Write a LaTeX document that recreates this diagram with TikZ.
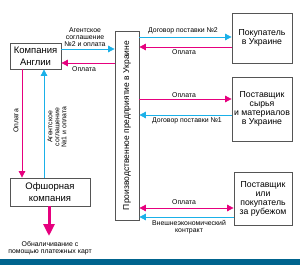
\documentclass[tikz,border=0pt]{standalone}
\usepackage{fontspec}
\setmainfont{Liberation Sans}
\usetikzlibrary{arrows.meta}
\definecolor{pk}{HTML}{E6007E}
\definecolor{cy}{HTML}{1AB0E8}
\definecolor{band}{HTML}{00648E}
\definecolor{bx}{HTML}{555555}
\tikzset{
  boxl/.style={draw=bx,line width=0.8pt,fill=white,inner sep=0pt,align=center,font=\fontsize{9.5}{12}\selectfont},
  boxr/.style={draw=bx,line width=0.8pt,fill=white,inner sep=0pt,align=center,font=\fontsize{8.7}{9}\selectfont},
  lbl/.style={inner sep=0pt,align=center,font=\fontsize{6.9}{7}\selectfont},
  pkline/.style={draw=pk,line width=0.8pt},
  cyline/.style={draw=cy,line width=0.8pt},
  tip/.style={-{Triangle[length=6.5pt,width=6.5pt]}},
  tipb/.style={{Triangle[length=6.5pt,width=6.5pt]}-{Triangle[length=6.5pt,width=6.5pt]}},
}
\begin{document}
\begin{tikzpicture}[x=1pt,y=-1pt]
\useasboundingbox (0,0) rectangle (300,265);
\fill[band] (0,259) rectangle (300,265);
% boxes
\node[boxl,minimum width=51pt,minimum height=26pt] (eng) at (35.5,56) {Компания\\Англии};
\node[boxl,minimum width=80pt,minimum height=28pt] (off) at (50,192) {Офшорная\\компания};
\node[draw=bx,line width=0.8pt,minimum width=24pt,minimum height=189pt,inner sep=0pt] (prod) at (127,125.5) {};
\node[rotate=90,inner sep=0pt,font=\fontsize{8.5}{10}\selectfont] (prodt) at (prod.center) {Производственное предприятие в Украине};
\node[boxr,minimum width=60pt,minimum height=50pt] (buy) at (262,38) {Покупатель\\в Украине};
\node[boxr,minimum width=60pt,minimum height=64pt] (sup) at (262,109) {Поставщик\\сырья\\и материалов\\в Украине};
\node[boxr,minimum width=58pt,minimum height=53pt] (for) at (263,198.5) {Поставщик\\или\\покупатель\\за рубежом};
% connectors
\draw[cyline,tip] (eng.east |- 0,49) -- (prod.west |- 0,49);
\draw[pkline,tip] (prod.west |- 0,63) -- (eng.east |- 0,63);
\draw[cyline,tip] (prod.east |- 0,37) -- (buy.west |- 0,37);
\draw[pkline,tip] (buy.west |- 0,47) -- (prod.east |- 0,47);
\draw[pkline,tip] (prod.east |- 0,99) -- (sup.west |- 0,99);
\draw[cyline,tip] (sup.west |- 0,115) -- (prod.east |- 0,115);
\draw[pkline,tipb] (prod.east |- 0,208) -- (for.west |- 0,208);
\draw[cyline,tip] (for.west |- 0,217) -- (prod.east |- 0,217);
\draw[pkline,tip] (eng.south -| 22,0) -- (off.north -| 22,0);
\draw[cyline,tip] (off.north -| 44,0) -- (eng.south -| 44,0);
\coordinate (cash) at (49,236);
\draw[draw=pk,line width=3pt,-{Triangle[length=12pt,width=11pt]}] (off.south -| cash) -- (cash);
% labels
\node[lbl] (l1) at (85,37) {Агентское\\соглашение\\№2 и оплата};
\node[lbl] (l2) at (84,69) {Оплата};
\node[lbl] (l3) at (183,31) {Договор поставки №2};
\node[lbl] (l4) at (184,52) {Оплата};
\node[lbl] (l5) at (184,95) {Оплата};
\node[lbl] (l6) at (187,121) {Договор поставки №1};
\node[lbl] (l7) at (184,202) {Оплата};
\node[lbl] (l8) at (189,227) {Внешнеэкономический\\контракт};
\node[lbl,rotate=90] (l9) at (16,121) {Оплата};
\node[lbl,rotate=90] (l10) at (57,127) {Агентское\\соглашение\\№1 и оплата};
\node[lbl] (l11) at (50,248) {Обналичивание с\\помощью платежных карт};
\end{tikzpicture}
\end{document}
